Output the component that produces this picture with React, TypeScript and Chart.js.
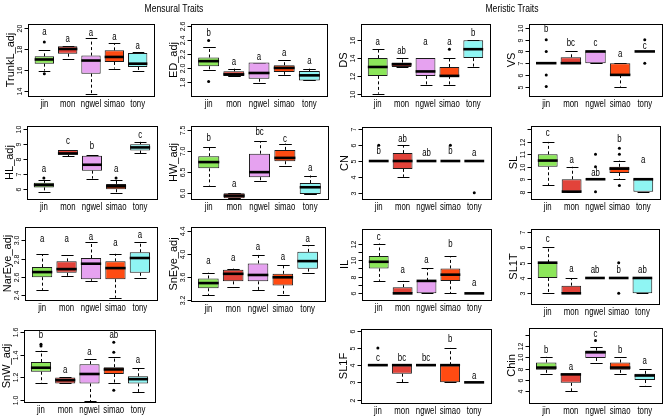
import React, { useEffect, useRef } from 'react';
import { Chart, registerables } from 'chart.js';
Chart.register(...registerables);

const FONT = '"Liberation Sans", Arial, Helvetica, sans-serif';
const SQUISH = 0.78;

// ---------------- data ----------------
const groups = ['jin', 'mon', 'ngwel', 'simao', 'tony'];
const groupColors = ['#8ce65a', '#e2433a', '#e6a2f0', '#ff4b12', '#8ff5f3'];

// five-number summaries per group: [lower whisker, Q1, median, Q3, upper whisker]
const trunkLStats = [[15.94, 16.6, 17.0, 17.3, 17.87], [17.0, 17.55, 18.0, 18.25, 18.25], [13.7, 15.65, 16.9, 17.37, 19.05], [16.13, 16.76, 17.24, 17.87, 18.57], [15.94, 16.29, 16.6, 17.62, 17.71]];
const trunkLOut = [[18.67, 15.65], [], [], [], []];
const trunkLLetters = ['a', 'a', 'a', 'a', 'a'];
const trunkLLetterY = [19.62, 18.9, 19.52, 19.14, 18.25];
const trunkLTicks = [14, 16, 18, 20];
const trunkLTickLabels = ['14', '16', '18', '20'];
const trunkLRange = [13.52, 20.38];

const edStats = [[1.966, 2.024, 2.098, 2.151, 2.307], [1.883, 1.883, 1.907, 1.951, 1.99], [1.785, 1.844, 1.927, 2.078, 2.078], [1.902, 1.941, 2.0, 2.039, 2.112], [1.82, 1.82, 1.893, 1.956, 1.99]];
const edOut = [[2.395, 1.805], [], [], [], []];
const edLetters = ['b', 'a', 'a', 'a', 'a'];
const edLetterY = [2.5, 2.078, 2.161, 2.21, 2.098];
const edTicks = [1.8, 2.0, 2.2, 2.4, 2.6];
const edTickLabels = ['1.8', '2.0', '2.2', '2.4', '2.6'];
const edRange = [1.595, 2.634];

const dsStats = [[10, 12, 13, 14, 15], [13, 13, 13.3, 13.5, 14], [11, 12, 12.5, 14, 14], [11, 12, 12, 13, 14], [13, 14, 15, 16, 16]];
const dsOut = [[], [], [], [15], []];
const dsLetters = ['a', 'ab', 'a', 'a', 'b'];
const dsLetterY = [15.78, 14.77, 15.78, 15.78, 16.82];
const dsTicks = [10, 12, 14, 16];
const dsTickLabels = ['10', '12', '14', '16'];
const dsRange = [9.74, 17.83];

const vsStats = [[7, 7, 7, 7, 7], [7, 7, 7, 7.5, 8], [7, 7, 8, 8, 8], [5, 6, 6, 7, 7], [8, 8, 8, 8, 8]];
const vsOut = [[9, 8, 6, 5], [], [], [], [9, 7]];
const vsLetters = ['b', 'bc', 'c', 'a', 'c'];
const vsLetterY = [9.86, 8.73, 8.73, 7.8, 8.45];
const vsTicks = [5, 6, 7, 8, 9, 10];
const vsTickLabels = ['5', '6', '7', '8', '9', '10'];
const vsRange = [4.2, 10.34];

const hlStats = [[5.81, 6.12, 6.28, 6.42, 6.58], [8.2, 8.28, 8.37, 8.6, 8.6], [6.7, 7.23, 7.62, 8.21, 8.26], [5.77, 6.0, 6.19, 6.35, 6.58], [8.4, 8.56, 8.77, 8.98, 9.14]];
const hlOut = [[6.74], [], [], [6.74], []];
const hlLetters = ['a', 'c', 'b', 'a', 'c'];
const hlLetterY = [7.33, 9.19, 8.84, 7.33, 9.6];
const hlTicks = [6, 7, 8, 9, 10];
const hlTickLabels = ['6', '7', '8', '9', '10'];
const hlRange = [5.35, 10.19];

const hwStats = [[6.18, 6.59, 6.74, 6.88, 7.11], [5.88, 5.88, 5.94, 6.0, 6.0], [6.3, 6.38, 6.5, 6.94, 7.24], [6.64, 6.76, 6.84, 7.03, 7.18], [5.98, 5.98, 6.14, 6.24, 6.42]];
const hwOut = [[], [], [], [], []];
const hwLetters = ['b', 'a', 'bc', 'c', 'a'];
const hwLetterY = [7.3, 6.22, 7.44, 7.28, 6.6];
const hwTicks = [6.0, 6.5, 7.0, 7.5];
const hwTickLabels = ['6.0', '6.5', '7.0', '7.5'];
const hwRange = [5.86, 7.6];

const cnStats = [[5, 5, 5, 5, 5], [4, 4.5, 5, 5.5, 6], [5, 5, 5, 5, 5], [5, 5, 5, 5, 5], [5, 5, 5, 5, 5]];
const cnOut = [[6], [], [], [6], [3]];
const cnLetters = ['b', 'ab', 'ab', 'b', 'a'];
const cnLetterY = [5.63, 6.35, 5.46, 5.63, 5.48];
const cnTicks = [3, 4, 5, 6, 7];
const cnTickLabels = ['3', '4', '5', '6', '7'];
const cnRange = [2.6, 7.15];

const slStats = [[8.5, 10, 10.5, 11, 12], [8, 8, 8, 9, 10], [9, 9, 9, 9, 9], [9, 9.5, 9.85, 10, 10.5], [8, 8, 9, 9, 9]];
const slOut = [[], [], [11, 10, 8], [11.5, 11, 8.5], []];
const slLetters = ['c', 'a', 'ab', 'b', 'a'];
const slLetterY = [12.67, 10.53, 9.47, 12.19, 10.53];
const slTicks = [8, 9, 10, 11, 12, 13];
const slTickLabels = ['8', '9', '10', '11', '12', ''];
const slRange = [7.41, 13.28];

const narEyeStats = [[2.456, 2.596, 2.652, 2.707, 2.85], [2.61, 2.644, 2.685, 2.77, 2.84], [2.556, 2.574, 2.744, 2.807, 2.98], [2.37, 2.574, 2.696, 2.77, 2.853], [2.585, 2.644, 2.807, 2.87, 2.98]];
const narEyeOut = [[], [], [], [], []];
const narEyeLetters = ['a', 'a', 'a', 'a', 'a'];
const narEyeLetterY = [3.01, 3.01, 3.04, 2.97, 3.06];
const narEyeTicks = [2.4, 2.6, 2.8, 3.0];
const narEyeTickLabels = ['2.4', '2.6', '2.8', '3.0'];
const narEyeRange = [2.345, 3.148];

const snEyeStats = [[3.29, 3.41, 3.5, 3.58, 3.68], [3.44, 3.53, 3.66, 3.73, 3.75], [3.38, 3.53, 3.64, 3.84, 3.99], [3.3, 3.46, 3.6, 3.66, 3.82], [3.68, 3.75, 3.88, 4.04, 4.15]];
const snEyeOut = [[], [], [], [], []];
const snEyeLetters = ['a', 'a', 'a', 'a', 'a'];
const snEyeLetterY = [3.88, 3.93, 4.12, 3.94, 4.26];
const snEyeTicks = [3.2, 3.6, 4.0, 4.4];
const snEyeTickLabels = ['3.2', '3.6', '4.0', '4.4'];
const snEyeRange = [3.19, 4.47];

const ilStats = [[7.5, 9, 9.8, 10.5, 12], [6, 6, 6, 6.75, 7.5], [6, 6, 7.5, 7.5, 9], [6, 7.5, 8.25, 9, 10.5], [6, 6, 6, 6, 6]];
const ilOut = [[], [], [], [], []];
const ilLetters = ['c', 'a', 'a', 'b', 'a'];
const ilLetterY = [12.8, 8.76, 9.97, 11.88, 7.26];
const ilTicks = [6, 7, 8, 9, 10, 11, 12];
const ilTickLabels = ['6', '', '8', '', '10', '', '12'];
const ilRange = [5.2, 13.75];

const sl1tStats = [[3, 4, 5, 5, 6], [3, 3, 3, 3.5, 4], [4, 4, 4, 4, 4], [4, 4, 4, 4, 4], [3, 3, 4, 4, 4]];
const sl1tOut = [[], [], [], [5, 3], []];
const sl1tLetters = ['c', 'a', 'ab', 'b', 'ab'];
const sl1tLetterY = [6.51, 4.6, 4.53, 4.53, 4.53];
const sl1tTicks = [3, 4, 5, 6, 7];
const sl1tTickLabels = ['3', '4', '5', '6', '7'];
const sl1tRange = [2.3, 7.2];

const snWStats = [[1.147, 1.25, 1.285, 1.335, 1.434], [1.147, 1.147, 1.176, 1.2, 1.2], [0.994, 1.147, 1.23, 1.316, 1.36], [1.155, 1.23, 1.27, 1.29, 1.38], [1.073, 1.147, 1.185, 1.21, 1.28]];
const snWOut = [[1.49, 1.475], [], [], [1.507, 1.42, 1.088], []];
const snWLetters = ['b', 'a', 'a', 'ab', 'a'];
const snWLetterY = [1.571, 1.263, 1.418, 1.571, 1.351];
const snWTicks = [1.0, 1.2, 1.4, 1.6];
const snWTickLabels = ['1.0', '1.2', '1.4', '1.6'];
const snWRange = [0.985, 1.615];

const sl1fStats = [[4, 4, 4, 4, 4], [3, 3.5, 4, 4, 4], [4, 4, 4, 4, 4], [3, 3, 4, 4, 5], [3, 3, 3, 3, 3]];
const sl1fOut = [[5], [], [], [], []];
const sl1fLetters = ['c', 'bc', 'bc', 'b', 'a'];
const sl1fLetterY = [4.42, 4.42, 4.42, 5.48, 3.37];
const sl1fTicks = [2, 3, 4, 5, 6];
const sl1fTickLabels = ['2', '3', '4', '5', '6'];
const sl1fRange = [1.8, 6.1];

const chinStats = [[7, 7.8, 8.2, 9.1, 10.1], [4, 5.5, 7, 7.1, 7.1], [9.1, 9.9, 10.9, 11.2, 11.9], [7, 7.8, 8.2, 9.1, 10], [5, 6, 6.8, 7.1, 8]];
const chinOut = [[], [], [13], [], []];
const chinLetters = ['b', 'a', 'c', 'b', 'a'];
const chinLetterY = [11.24, 8.3, 14.18, 11.24, 9.35];
const chinTicks = [4, 6, 8, 10, 12, 14];
const chinTickLabels = ['4', '6', '8', '10', '12', ''];
const chinRange = [1.94, 15.2];

// ---------------- layout (plot frames: left, top, right, bottom) ----------------
const frames: Record<string, number[]> = {
  TrunkL: [28, 24, 154, 96],
  ED: [191, 24, 327, 96],
  DS: [361, 24, 490, 96],
  VS: [529, 24, 662, 96],
  HL: [27, 126, 157, 199],
  HW: [191, 126, 328, 199],
  CN: [362, 127, 491, 199],
  SL: [531, 126, 660, 199],
  NarEye: [25, 227, 157, 300],
  SnEye: [191, 227, 325, 301],
  IL: [362, 229, 491, 300],
  SL1T: [531, 229, 659, 304],
  SnW: [24, 330, 155, 402],
  SL1F: [361, 329, 491, 403],
  Chin: [529, 328, 662, 403],
};

const panels = [
  { key: 'TrunkL', title: 'TrunkL_adj', stats: trunkLStats, out: trunkLOut, letters: trunkLLetters, letterY: trunkLLetterY, ticks: trunkLTicks, tickLabels: trunkLTickLabels, range: trunkLRange },
  { key: 'ED', title: 'ED_adj', stats: edStats, out: edOut, letters: edLetters, letterY: edLetterY, ticks: edTicks, tickLabels: edTickLabels, range: edRange },
  { key: 'DS', title: 'DS', stats: dsStats, out: dsOut, letters: dsLetters, letterY: dsLetterY, ticks: dsTicks, tickLabels: dsTickLabels, range: dsRange },
  { key: 'VS', title: 'VS', stats: vsStats, out: vsOut, letters: vsLetters, letterY: vsLetterY, ticks: vsTicks, tickLabels: vsTickLabels, range: vsRange },
  { key: 'HL', title: 'HL_adj', stats: hlStats, out: hlOut, letters: hlLetters, letterY: hlLetterY, ticks: hlTicks, tickLabels: hlTickLabels, range: hlRange },
  { key: 'HW', title: 'HW_adj', stats: hwStats, out: hwOut, letters: hwLetters, letterY: hwLetterY, ticks: hwTicks, tickLabels: hwTickLabels, range: hwRange },
  { key: 'CN', title: 'CN', stats: cnStats, out: cnOut, letters: cnLetters, letterY: cnLetterY, ticks: cnTicks, tickLabels: cnTickLabels, range: cnRange },
  { key: 'SL', title: 'SL', stats: slStats, out: slOut, letters: slLetters, letterY: slLetterY, ticks: slTicks, tickLabels: slTickLabels, range: slRange },
  { key: 'NarEye', title: 'NarEye_adj', stats: narEyeStats, out: narEyeOut, letters: narEyeLetters, letterY: narEyeLetterY, ticks: narEyeTicks, tickLabels: narEyeTickLabels, range: narEyeRange },
  { key: 'SnEye', title: 'SnEye_adj', stats: snEyeStats, out: snEyeOut, letters: snEyeLetters, letterY: snEyeLetterY, ticks: snEyeTicks, tickLabels: snEyeTickLabels, range: snEyeRange },
  { key: 'IL', title: 'IL', stats: ilStats, out: ilOut, letters: ilLetters, letterY: ilLetterY, ticks: ilTicks, tickLabels: ilTickLabels, range: ilRange },
  { key: 'SL1T', title: 'SL1T', stats: sl1tStats, out: sl1tOut, letters: sl1tLetters, letterY: sl1tLetterY, ticks: sl1tTicks, tickLabels: sl1tTickLabels, range: sl1tRange },
  { key: 'SnW', title: 'SnW_adj', stats: snWStats, out: snWOut, letters: snWLetters, letterY: snWLetterY, ticks: snWTicks, tickLabels: snWTickLabels, range: snWRange },
  { key: 'SL1F', title: 'SL1F', stats: sl1fStats, out: sl1fOut, letters: sl1fLetters, letterY: sl1fLetterY, ticks: sl1fTicks, tickLabels: sl1fTickLabels, range: sl1fRange },
  { key: 'Chin', title: 'Chin', stats: chinStats, out: chinOut, letters: chinLetters, letterY: chinLetterY, ticks: chinTicks, tickLabels: chinTickLabels, range: chinRange },
];

const PAD = { left: 32, top: 6, right: 6, bottom: 16 };

// draw text narrowed horizontally using the maxWidth argument of fillText
function narrowText(ctx: CanvasRenderingContext2D, text: string, x: number, y: number) {
  const w = ctx.measureText(text).width;
  ctx.fillText(text, x, y, w * SQUISH);
}

function boxPlugin(p: any) {
  return {
    id: 'rbox',
    beforeDatasetsDraw(chart: any) {
      const ctx = chart.ctx;
      const xs = chart.scales.x;
      const ys = chart.scales.y;
      const meta = chart.getDatasetMeta(0);
      ctx.save();
      ctx.strokeStyle = '#000';
      ctx.lineWidth = 1;
      p.stats.forEach((s: number[], i: number) => {
        const cx = Math.round(xs.getPixelForValue(i + 1)) + 0.5;
        const w = meta.data[i].width;
        const hw = w * 0.3;
        const yLo = ys.getPixelForValue(s[0]);
        const yQ1 = ys.getPixelForValue(s[1]);
        const yQ3 = ys.getPixelForValue(s[3]);
        const yHi = ys.getPixelForValue(s[4]);
        ctx.setLineDash([3, 2.5]);
        ctx.beginPath();
        ctx.moveTo(cx, yQ3); ctx.lineTo(cx, yHi);
        ctx.moveTo(cx, yQ1); ctx.lineTo(cx, yLo);
        ctx.stroke();
        ctx.setLineDash([]);
        ctx.beginPath();
        ctx.moveTo(cx - hw, Math.round(yHi) + 0.5); ctx.lineTo(cx + hw, Math.round(yHi) + 0.5);
        ctx.moveTo(cx - hw, Math.round(yLo) + 0.5); ctx.lineTo(cx + hw, Math.round(yLo) + 0.5);
        ctx.stroke();
      });
      ctx.restore();
    },
    afterDatasetsDraw(chart: any) {
      const ctx = chart.ctx;
      const xs = chart.scales.x;
      const ys = chart.scales.y;
      const area = chart.chartArea;
      const meta = chart.getDatasetMeta(0);
      ctx.save();
      // medians
      ctx.strokeStyle = '#000';
      ctx.lineWidth = 2.6;
      p.stats.forEach((s: number[], i: number) => {
        const cx = xs.getPixelForValue(i + 1);
        const w = meta.data[i].width;
        const ym = ys.getPixelForValue(s[2]);
        ctx.beginPath();
        ctx.moveTo(cx - w / 2, ym); ctx.lineTo(cx + w / 2, ym);
        ctx.stroke();
      });
      // outliers
      ctx.fillStyle = '#000';
      p.out.forEach((vals: number[], i: number) => {
        const cx = xs.getPixelForValue(i + 1);
        vals.forEach((v) => {
          ctx.beginPath();
          ctx.arc(cx, ys.getPixelForValue(v), 1.5, 0, Math.PI * 2);
          ctx.fill();
        });
      });
      // significance letters
      ctx.font = `10px ${FONT}`;
      ctx.textAlign = 'center';
      ctx.textBaseline = 'middle';
      p.letters.forEach((l: string, i: number) => {
        narrowText(ctx, l, xs.getPixelForValue(i + 1), ys.getPixelForValue(p.letterY[i]));
      });
      // frame
      ctx.lineWidth = 1;
      ctx.strokeRect(Math.round(area.left) + 0.5, Math.round(area.top) + 0.5, Math.round(area.right - area.left), Math.round(area.bottom - area.top));
      // y ticks + rotated labels
      const lx = Math.round(area.left) + 0.5;
      ctx.font = `7px ${FONT}`;
      p.ticks.forEach((t: number, i: number) => {
        const y = Math.round(ys.getPixelForValue(t)) + 0.5;
        ctx.beginPath();
        ctx.moveTo(lx - 4, y); ctx.lineTo(lx, y);
        ctx.stroke();
        const lab = p.tickLabels[i];
        if (lab) {
          ctx.save();
          ctx.translate(lx - 8, y);
          ctx.rotate(-Math.PI / 2);
          ctx.textAlign = 'center';
          ctx.textBaseline = 'middle';
          ctx.fillText(lab, 0, 0);
          ctx.restore();
        }
      });
      // x category labels
      ctx.font = `10px ${FONT}`;
      ctx.textAlign = 'center';
      ctx.textBaseline = 'middle';
      groups.forEach((g, i) => {
        narrowText(ctx, g, xs.getPixelForValue(i + 1), area.bottom + 8);
      });
      // y title
      ctx.save();
      ctx.font = `11px ${FONT}`;
      ctx.translate(area.left - 17, (area.top + area.bottom) / 2);
      ctx.rotate(-Math.PI / 2);
      ctx.fillText(p.title, 0, 0);
      ctx.restore();
      ctx.restore();
    },
  };
}

function Panel({ p }: { p: any }) {
  const ref = useRef<HTMLCanvasElement>(null);
  const f = frames[p.key];
  const width = f[2] - f[0] + PAD.left + PAD.right;
  const height = f[3] - f[1] + PAD.top + PAD.bottom;
  useEffect(() => {
    if (!ref.current) return;
    const chart = new Chart(ref.current, {
      type: 'bar',
      data: {
        datasets: [
          {
            data: p.stats.map((s: number[], i: number) => ({ x: i + 1, y: [s[1], s[3]] })),
            backgroundColor: groupColors,
            borderColor: '#1a1a1a',
            borderWidth: 1,
            borderSkipped: false,
            categoryPercentage: 1,
            barPercentage: 0.83,
          } as any,
        ],
      },
      options: {
        animation: false,
        responsive: false,
        devicePixelRatio: 1,
        layout: { padding: PAD },
        plugins: { legend: { display: false }, tooltip: { enabled: false }, title: { display: false } },
        scales: {
          x: { type: 'linear', min: 0.3, max: 5.7, offset: false, display: false },
          y: { type: 'linear', min: p.range[0], max: p.range[1], offset: false, display: false },
        },
      } as any,
      plugins: [boxPlugin(p)],
    });
    return () => chart.destroy();
  }, []);
  return (
    <canvas
      ref={ref}
      width={width}
      height={height}
      style={{ position: 'absolute', left: f[0] - PAD.left, top: f[1] - PAD.top, width, height }}
    />
  );
}

function SectionTitle({ text, center }: { text: string; center: number }) {
  const ref = useRef<HTMLCanvasElement>(null);
  useEffect(() => {
    const c = ref.current;
    if (!c) return;
    const ctx = c.getContext('2d');
    if (!ctx) return;
    ctx.clearRect(0, 0, c.width, c.height);
    ctx.font = `11px ${FONT}`;
    ctx.fillStyle = '#000';
    ctx.textAlign = 'center';
    ctx.textBaseline = 'middle';
    narrowText(ctx, text, c.width / 2, c.height / 2);
  }, []);
  return <canvas ref={ref} width={120} height={16} style={{ position: 'absolute', left: center - 60, top: 1, width: 120, height: 16 }} />;
}

export default function App() {
  return (
    <div style={{ position: 'absolute', left: 0, top: 0, width: 669, height: 416, background: '#fff', overflow: 'hidden' }}>
      <SectionTitle text="Mensural Traits" center={174} />
      <SectionTitle text="Meristic Traits" center={512} />
      {panels.map((p) => (
        <Panel key={p.key} p={p} />
      ))}
    </div>
  );
}
